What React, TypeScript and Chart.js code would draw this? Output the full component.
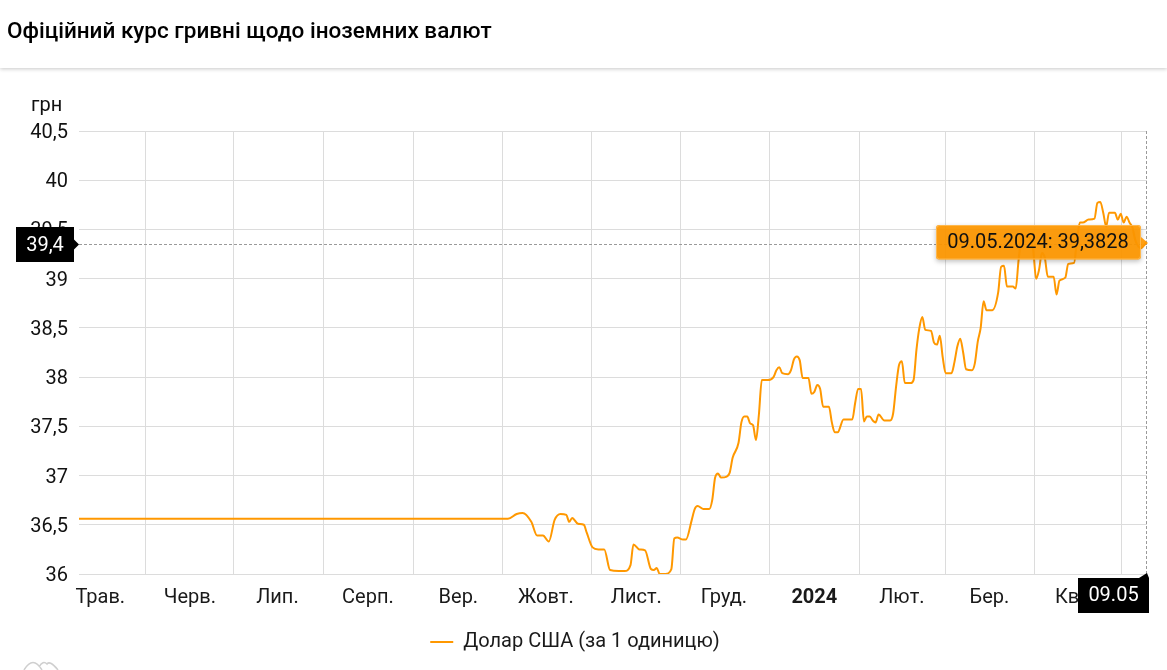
import React, { useEffect, useRef } from "react";
import { Chart, registerables } from "chart.js";

Chart.register(...registerables);

const titleText = "Офіційний курс гривні щодо іноземних валют";
const unitText = "грн";
const seriesName = "Долар США (за 1 одиницю)";
const tooltipText = "09.05.2024: 39,3828";
const hoverYLabel = "39,4";
const hoverXLabel = "09.05";
const hoverYValue = 39.35;

// Days since 09.05.2023
const days = [
  0, 147, 150, 152, 155, 157, 159, 161, 163, 165, 167, 168, 169, 171, 173, 174, 176, 178, 180, 182,
  185, 187, 189, 190, 192, 194, 196, 197, 198, 199, 201, 203, 204, 205, 207, 208, 210, 211, 212, 214,
  216, 217, 218, 219, 220, 222, 223, 224, 226, 227, 228, 229, 230, 231, 232, 233, 234, 236, 238, 239,
  240, 241, 243, 244, 245, 246, 247, 248, 250, 251, 252, 253, 254, 255, 257, 258, 259, 260, 262, 265,
  266, 267, 268, 269, 270, 271, 272, 273, 274, 276, 278, 279, 280, 281, 282, 283, 285, 286, 287, 288,
  289, 290, 292, 293, 294, 295, 296, 297, 299, 300, 301, 302, 303, 304, 306, 307, 308, 309, 310, 311,
  313, 315, 316, 317, 318, 320, 321, 322, 323, 325, 327, 328, 329, 330, 331, 332, 334, 335, 336, 338,
  339, 341, 342, 343, 344, 346, 348, 349, 350, 351, 352, 353, 355, 356, 357, 358, 359, 360, 361, 362,
  364, 365, 366,
];
const usdRates = [
  36.56, 36.56, 36.61, 36.62, 36.53, 36.39, 36.39, 36.33, 36.55, 36.61, 36.6, 36.53, 36.57, 36.51, 36.5, 36.42, 36.27, 36.25, 36.25, 36.04,
  36.03, 36.03, 36.09, 36.3, 36.25, 36.24, 36.05, 36.04, 36.06, 36.0, 36.0, 36.05, 36.36, 36.37, 36.35, 36.35, 36.55, 36.66, 36.69, 36.66,
  36.66, 36.75, 36.98, 37.02, 36.98, 36.99, 37.03, 37.18, 37.33, 37.54, 37.6, 37.6, 37.53, 37.51, 37.36, 37.62, 37.97, 37.97, 38.0, 38.07,
  38.1, 38.04, 38.03, 38.07, 38.18, 38.21, 38.17, 37.99, 37.99, 37.83, 37.85, 37.92, 37.88, 37.7, 37.7, 37.54, 37.44, 37.44, 37.57, 37.57,
  37.74, 37.88, 37.88, 37.55, 37.6, 37.6, 37.56, 37.54, 37.62, 37.56, 37.56, 37.63, 37.9, 38.12, 38.16, 37.94, 37.94, 37.97, 38.28, 38.5,
  38.61, 38.48, 38.47, 38.35, 38.33, 38.42, 38.2, 38.04, 38.04, 38.15, 38.31, 38.39, 38.25, 38.08, 38.07, 38.14, 38.36, 38.5, 38.77, 38.68,
  38.68, 38.86, 39.12, 39.13, 38.92, 38.92, 38.9, 39.19, 39.41, 39.43, 39.29, 39.0, 39.09, 39.26, 39.21, 39.02, 39.02, 38.84, 38.98, 39.01,
  39.15, 39.16, 39.39, 39.57, 39.57, 39.6, 39.61, 39.77, 39.78, 39.67, 39.53, 39.67, 39.67, 39.6, 39.66, 39.57, 39.63, 39.57, 39.52, 39.39,
  39.31, 39.34, 39.3828,
];

const monthLineDays = [22.8, 52.8, 83.8, 114.5, 145, 175.6, 206, 236.5, 267.5, 296.8, 327.5, 357.4];
const monthLabelDays = [7.3, 38, 68, 99, 130, 160, 191, 221, 252, 282, 312, 342];
const monthLabels = ["Трав.", "Черв.", "Лип.", "Серп.", "Вер.", "Жовт.", "Лист.", "Груд.", "2024", "Лют.", "Бер.", "Квіт."];
const boldLabel = "2024";

const yMin = 36;
const yMax = 40.5;
const yStep = 0.5;

const ORANGE = "#ff9800";
const GRID = "#dcdcdc";
const FONT = "Roboto";

function labelFor(value: number): string {
  const i = monthLabelDays.indexOf(value);
  return i >= 0 ? monthLabels[i] : "";
}

const overlay = {
  id: "overlay",
  afterDraw(chart: any) {
    const { ctx, chartArea, scales } = chart;
    const xEnd = chartArea.right;
    const yHover = scales.y.getPixelForValue(hoverYValue);
    const yH = Math.round(yHover) + 0.5;
    ctx.save();

    // unit
    ctx.fillStyle = "#111";
    ctx.font = `20px ${FONT}`;
    ctx.textAlign = "left";
    ctx.textBaseline = "middle";
    ctx.fillText(unitText, 31, 106);

    // crosshair
    ctx.strokeStyle = "#9a9a9a";
    ctx.lineWidth = 1;
    ctx.setLineDash([3, 2]);
    ctx.beginPath();
    ctx.moveTo(chartArea.left, yH);
    ctx.lineTo(xEnd, yH);
    ctx.moveTo(xEnd - 0.5, chartArea.top);
    ctx.lineTo(xEnd - 0.5, chartArea.bottom);
    ctx.stroke();
    ctx.setLineDash([]);

    // y label
    ctx.fillStyle = "#000";
    ctx.fillRect(16, yH - 17.5, 58, 35);
    ctx.beginPath();
    ctx.moveTo(74, yH - 5);
    ctx.lineTo(79, yH);
    ctx.lineTo(74, yH + 5);
    ctx.fill();
    ctx.fillStyle = "#fff";
    ctx.textAlign = "center";
    ctx.fillText(hoverYLabel, 45, yH + 1);

    // x label
    ctx.fillStyle = "#000";
    ctx.fillRect(1078, chartArea.bottom + 4, 71, 35);
    ctx.beginPath();
    ctx.moveTo(1139, chartArea.bottom + 4);
    ctx.lineTo(1147, chartArea.bottom - 1);
    ctx.lineTo(1149, chartArea.bottom + 4);
    ctx.fill();
    ctx.fillStyle = "#fff";
    ctx.fillText(hoverXLabel, 1113.5, chartArea.bottom + 22);

    // tooltip
    ctx.save();
    ctx.globalAlpha = 0.93;
    ctx.shadowColor = "rgba(0,0,0,0.28)";
    ctx.shadowBlur = 5;
    ctx.shadowOffsetY = 2;
    ctx.fillStyle = ORANGE;
    ctx.beginPath();
    ctx.roundRect(936, 225, 205, 34.5, 3);
    ctx.fill();
    ctx.shadowColor = "transparent";
    ctx.beginPath();
    ctx.moveTo(1141, 237);
    ctx.lineTo(1148, 243);
    ctx.lineTo(1141, 249);
    ctx.fill();
    ctx.strokeStyle = "rgba(255,190,90,0.9)";
    ctx.beginPath();
    ctx.roundRect(936.5, 225.5, 204, 33.5, 3);
    ctx.stroke();
    ctx.restore();
    ctx.fillStyle = "#111";
    ctx.textAlign = "center";
    ctx.fillText(tooltipText, 1038, 243);

    // faint logo cut by the bottom edge
    ctx.strokeStyle = "#cfcfcf";
    ctx.lineWidth = 1.5;
    ctx.beginPath();
    ctx.moveTo(24, 670);
    ctx.quadraticCurveTo(33, 655, 42, 670);
    ctx.moveTo(39, 667);
    ctx.quadraticCurveTo(43, 660, 47, 664);
    ctx.quadraticCurveTo(50, 660, 58, 670);
    ctx.stroke();
    ctx.restore();
  },
};

export default function App() {
  const ref = useRef<HTMLCanvasElement | null>(null);

  useEffect(() => {
    const canvas = ref.current;
    if (!canvas) return;
    const tickFont = { family: FONT, size: 20 };
    const chart = new Chart(canvas, {
      type: "line",
      data: {
        datasets: [
          {
            label: seriesName,
            data: days.map((d, i) => ({ x: d, y: usdRates[i] })),
            borderColor: ORANGE,
            backgroundColor: ORANGE,
            borderWidth: 2,
            pointRadius: 0,
            cubicInterpolationMode: "monotone",
          },
        ],
      },
      options: {
        responsive: false,
        animation: false,
        events: [],
        layout: { padding: { top: 131, right: 20, bottom: 8, left: 3 } },
        plugins: {
          tooltip: { enabled: false },
          legend: {
            position: "bottom",
            labels: {
              boxWidth: 23,
              boxHeight: 0,
              padding: 9,
              color: "#1a1a1a",
              font: tickFont,
            },
          },
        },
        scales: {
          x: {
            type: "linear",
            min: 0,
            max: 366,
            border: { display: false },
            afterBuildTicks(scale: any) {
              scale.ticks = [...monthLineDays, ...monthLabelDays]
                .sort((a, b) => a - b)
                .map((value) => ({ value }));
            },
            afterFit(scale: any) {
              scale.height = 49;
            },
            grid: {
              drawTicks: false,
              color: (c: any) => (monthLineDays.includes(c.tick?.value) ? GRID : "transparent"),
            },
            ticks: {
              autoSkip: false,
              maxRotation: 0,
              padding: 12,
              color: "#1a1a1a",
              callback: (v: any) => labelFor(Number(v)),
              font: (c: any) => ({
                family: FONT,
                size: 20,
                weight: labelFor(c.tick?.value) === boldLabel ? "bold" : "normal",
              }),
            },
          },
          y: {
            min: yMin,
            max: yMax,
            border: { display: false },
            afterFit(scale: any) {
              scale.width = 76;
            },
            grid: { drawTicks: false, color: GRID },
            ticks: {
              stepSize: yStep,
              padding: 11,
              labelOffset: 2,
              color: "#111",
              font: tickFont,
              callback: (v: any) => String(v).replace(".", ","),
            },
          },
        },
      },
      plugins: [overlay],
    } as any);
    return () => chart.destroy();
  }, []);

  return (
    <div style={{ position: "fixed", left: 0, top: 0, width: 1167, height: 670, background: "#fff", overflow: "hidden" }}>
      <canvas ref={ref} width={1167} height={670} style={{ display: "block", position: "absolute", left: 0, top: 0 }} />
      <div
        style={{
          position: "absolute",
          left: 0,
          top: 0,
          width: 1167,
          height: 68,
          background: "#fff",
          boxShadow: "0 1px 4px rgba(0,0,0,0.22)",
          fontFamily: FONT,
          fontWeight: 500,
          fontSize: 22.5,
          lineHeight: "61px",
          paddingLeft: 7,
          boxSizing: "border-box",
          color: "#000",
        }}
      >
        {titleText}
      </div>
    </div>
  );
}
